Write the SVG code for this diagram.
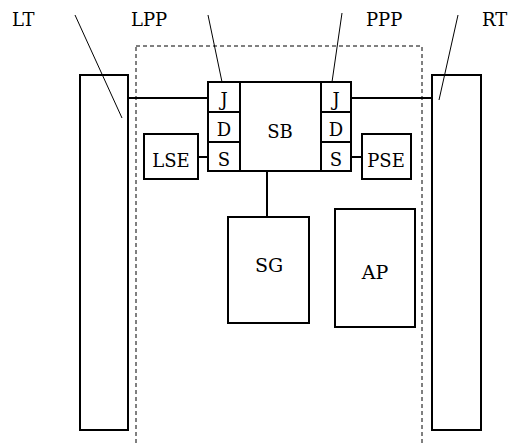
<svg xmlns="http://www.w3.org/2000/svg" width="509" height="445" viewBox="0 0 509 445">
<style>
.b{fill:#fff;stroke:#000;stroke-width:2}
.c{fill:none;stroke:#000;stroke-width:2}
.l{fill:none;stroke:#000;stroke-width:1}
.d{fill:none;stroke:#000;stroke-width:1;stroke-dasharray:4,3}
.m{text-anchor:middle}
text{font-family:'DejaVu Serif','Liberation Serif',serif;font-size:18px;fill:#000}
.big{font-size:19px}
</style>
<rect id="frame" class="d" x="136" y="46" width="286" height="420"/>
<g id="LT"><rect class="b" x="80" y="75" width="48" height="355"/><text x="12" y="26">LT</text></g>
<g id="RT"><rect class="b" x="432" y="75" width="49" height="355"/><text x="482" y="26">RT</text></g>
<g id="LPP"><text x="131" y="26">LPP</text></g>
<g id="PPP"><text x="366" y="26">PPP</text></g>
<g id="SB"><rect class="b" x="240" y="82" width="81" height="89"/><text class="m" x="280" y="138">SB</text></g>
<g id="LJ"><rect class="b" x="208" y="82" width="32" height="30"/><text class="m" x="224" y="106">J</text></g>
<g id="LD"><rect class="b" x="208" y="112" width="32" height="30"/><text class="m" x="224" y="136">D</text></g>
<g id="LS"><rect class="b" x="208" y="142" width="32" height="29"/><text class="m" x="224" y="166">S</text></g>
<g id="RJ"><rect class="b" x="321" y="82" width="30" height="30"/><text class="m" x="336" y="106">J</text></g>
<g id="RD"><rect class="b" x="321" y="112" width="30" height="30"/><text class="m" x="336" y="136">D</text></g>
<g id="RS"><rect class="b" x="321" y="142" width="30" height="29"/><text class="m" x="336" y="166">S</text></g>
<g id="LSE"><rect class="b" x="144" y="134" width="54" height="45"/><text class="m" x="171" y="167">LSE</text></g>
<g id="PSE"><rect class="b" x="362" y="134" width="49" height="45"/><text class="m" x="386" y="167">PSE</text></g>
<g id="SG"><rect class="b" x="228" y="217" width="81" height="106"/><text class="m big" x="269" y="272">SG</text></g>
<g id="AP"><rect class="b" x="335" y="209" width="80" height="118"/><text class="m big" x="375" y="279">AP</text></g>
<g id="connectors">
<line class="c" x1="128" y1="98" x2="208" y2="98"/>
<line class="c" x1="351" y1="98" x2="432" y2="98"/>
<line class="c" x1="198" y1="157" x2="208" y2="157"/>
<line class="c" x1="351" y1="157" x2="362" y2="157"/>
<line class="c" x1="267" y1="171" x2="267" y2="217"/>
<line class="l" x1="75" y1="15" x2="122" y2="118"/>
<line class="l" x1="208" y1="15" x2="222" y2="82"/>
<line class="l" x1="342" y1="13" x2="332" y2="82"/>
<line class="l" x1="458" y1="15" x2="439" y2="100"/>
</g>
</svg>
